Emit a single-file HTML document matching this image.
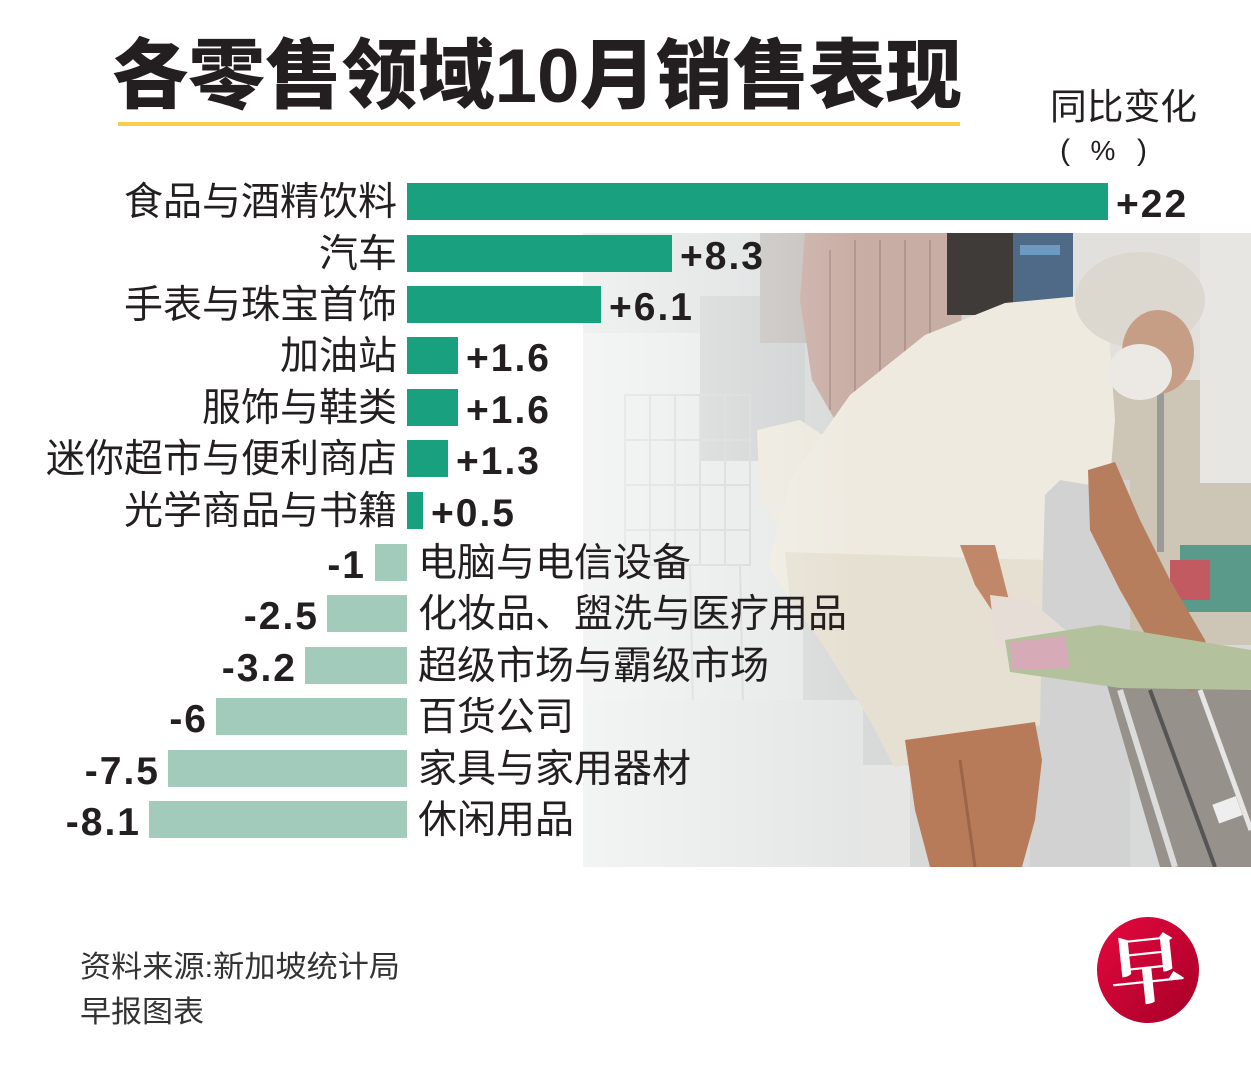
<!DOCTYPE html>
<html><head><meta charset="utf-8"><style>
html,body{margin:0;padding:0;background:#fff;}
body{width:1251px;height:1074px;overflow:hidden;}
svg{display:block;}
.cj{font-family:"Liberation Sans","Noto Sans CJK SC",sans-serif;fill:#231f20;}
.v{font-family:"Liberation Sans",sans-serif;font-weight:bold;fill:#231f20;font-size:39px;letter-spacing:2px;}
</style></head><body>
<svg width="1251" height="1074" viewBox="0 0 1251 1074" xmlns="http://www.w3.org/2000/svg">
<defs>
<clipPath id="pc"><rect x="583" y="233" width="668" height="634"/></clipPath>
<linearGradient id="fade" x1="583" y1="0" x2="860" y2="0" gradientUnits="userSpaceOnUse">
<stop offset="0" stop-color="#fff" stop-opacity="0.55"/><stop offset="1" stop-color="#fff" stop-opacity="0"/></linearGradient>
<linearGradient id="lg" x1="0" y1="0" x2="1" y2="1"><stop offset="0" stop-color="#e6083f"/><stop offset="1" stop-color="#a50027"/></linearGradient>
</defs>

<!-- PHOTO APPROXIMATION -->
<g clip-path="url(#pc)">
<rect x="583" y="233" width="668" height="634" fill="#d8d9d9"/>
<rect x="583" y="233" width="220" height="634" fill="#e6e8e8"/>
<rect x="583" y="233" width="180" height="100" fill="#dde0e0"/>
<rect x="700" y="296" width="105" height="165" fill="#cfd2d2"/>
<!-- cart lines -->
<g stroke="#d3d6d6" stroke-width="2" fill="none">
<rect x="625" y="395" width="125" height="170"/>
<line x1="650" y1="395" x2="650" y2="565"/><line x1="675" y1="395" x2="675" y2="565"/><line x1="700" y1="395" x2="700" y2="565"/><line x1="725" y1="395" x2="725" y2="565"/>
<line x1="625" y1="440" x2="750" y2="440"/><line x1="625" y1="485" x2="750" y2="485"/><line x1="625" y1="530" x2="750" y2="530"/>
<line x1="740" y1="565" x2="745" y2="800"/><line x1="690" y1="565" x2="695" y2="800"/>
</g>
<rect x="760" y="233" width="48" height="110" fill="#c4c1bd"/>
<polygon points="805,233 950,233 962,300 958,415 900,425 835,420 812,380 800,300" fill="#c8ada4"/>
<g stroke="#b0968e" stroke-width="2">
<line x1="830" y1="250" x2="830" y2="410"/><line x1="855" y1="240" x2="855" y2="415"/><line x1="880" y1="240" x2="880" y2="420"/><line x1="905" y1="240" x2="905" y2="420"/><line x1="930" y1="240" x2="930" y2="415"/>
</g>
<polygon points="757,430 800,420 830,440 828,540 790,545 760,500" fill="#ece8dd"/>
<rect x="947" y="233" width="66" height="82" fill="#3f3b39"/>
<rect x="1013" y="233" width="60" height="72" fill="#4f6a86"/>
<rect x="1020" y="245" width="40" height="10" fill="#6d9ac0"/>
<rect x="1073" y="233" width="178" height="160" fill="#e2e0dc"/>
<rect x="1110" y="380" width="141" height="265" fill="#cdc6b6"/>
<rect x="1200" y="233" width="51" height="250" fill="#e8e6e2"/>
<rect x="1157" y="377" width="7" height="175" fill="#9a9a9a"/>
<rect x="1180" y="545" width="71" height="67" fill="#5a9a8a"/>
<rect x="1170" y="560" width="40" height="40" fill="#c25a62"/>
<rect x="1030" y="480" width="100" height="387" fill="#d2d2d2"/>
<rect x="583" y="700" width="280" height="167" fill="#e4e6e6"/>
<rect x="860" y="765" width="50" height="102" fill="#e6e6e4"/>
<polygon points="1107,685 1251,685 1251,867 1160,867" fill="#96918a"/>
<line x1="1120" y1="690" x2="1175" y2="867" stroke="#dcdcdc" stroke-width="6"/>
<line x1="1150" y1="690" x2="1215" y2="867" stroke="#555" stroke-width="4"/>
<line x1="1200" y1="690" x2="1251" y2="830" stroke="#e6e6e6" stroke-width="5"/>
<rect x="1215" y="800" width="25" height="20" fill="#eee" transform="rotate(-20 1227 810)"/>
<!-- man -->
<polygon points="768,565 790,480 850,395 925,335 1005,303 1080,296 1108,318 1115,420 1110,480 1090,485 1060,480 1045,495 1042,600 1040,725 960,745 895,768 870,720 820,640 790,600" fill="#eeeae0"/>
<polygon points="785,552 1043,560 1040,725 960,745 895,768 870,720 820,640 790,600" fill="#e6e0d2"/>
<polygon points="905,740 1035,722 1042,760 1035,820 1022,867 930,867 915,810" fill="#b87b5a"/>
<line x1="960" y1="760" x2="975" y2="867" stroke="#9c6448" stroke-width="3"/>
<polygon points="1088,470 1115,462 1140,520 1170,580 1205,640 1215,680 1190,692 1160,660 1120,590 1090,530" fill="#b77e5e"/>
<polygon points="960,545 995,545 1012,612 995,615 975,585" fill="#c08868"/>
<polygon points="990,595 1030,600 1077,640 1070,676 1020,672 995,640" fill="#e6ddd6"/>
<polygon points="1005,640 1100,625 1251,650 1251,690 1120,688 1010,672" fill="#b3c29c"/>
<polygon points="1010,642 1065,636 1070,668 1012,670" fill="#d6aab6"/>
<ellipse cx="1140" cy="300" rx="65" ry="48" fill="#dcd8d0"/>
<ellipse cx="1158" cy="352" rx="36" ry="42" fill="#c69e86"/>
<ellipse cx="1140" cy="372" rx="32" ry="28" fill="#ece8e4"/>
<rect x="583" y="233" width="280" height="634" fill="url(#fade)"/>
</g>

<!-- TITLE -->
<text x="112" y="102" class="cj" style="font-size:76px;font-weight:900;" textLength="850" lengthAdjust="spacingAndGlyphs">各零售领域10月销售表现</text>
<rect x="118" y="122" width="842" height="4" fill="#f3cf4a"/>
<text x="1050" y="119" class="cj" style="font-size:36px;" textLength="147" lengthAdjust="spacingAndGlyphs">同比变化</text>
<text x="1060" y="160" class="cj" style="font-size:30px;font-family:'Liberation Sans',sans-serif;">(</text>
<text x="1103" y="160" class="cj" text-anchor="middle" style="font-size:28px;font-family:'Liberation Sans',sans-serif;">%</text>
<text x="1147" y="160" class="cj" text-anchor="end" style="font-size:30px;font-family:'Liberation Sans',sans-serif;">)</text>

<!-- BARS positive -->
<g fill="#19a07e">
<rect x="407" y="183" width="701" height="37"/>
<rect x="407" y="235" width="265" height="37"/>
<rect x="407" y="286" width="194" height="37"/>
<rect x="407" y="337" width="51" height="37"/>
<rect x="407" y="389" width="51" height="37"/>
<rect x="407" y="440" width="41" height="37"/>
<rect x="407" y="492" width="16" height="37"/>
</g>
<g fill="#a2cbbc">
<rect x="375" y="544" width="32" height="37"/>
<rect x="327" y="595" width="80" height="37"/>
<rect x="305" y="647" width="102" height="37"/>
<rect x="216" y="698" width="191" height="37"/>
<rect x="168" y="750" width="239" height="37"/>
<rect x="149" y="801" width="258" height="37"/>
</g>

<!-- category labels -->
<g class="cj" style="font-size:39px;" text-anchor="end">
<text x="397" y="215">食品与酒精饮料</text>
<text x="397" y="267">汽车</text>
<text x="397" y="318">手表与珠宝首饰</text>
<text x="397" y="369">加油站</text>
<text x="397" y="421">服饰与鞋类</text>
<text x="397" y="472">迷你超市与便利商店</text>
<text x="397" y="524">光学商品与书籍</text>
</g>
<g class="cj" style="font-size:39px;">
<text x="418" y="576">电脑与电信设备</text>
<text x="418" y="627">化妆品、盥洗与医疗用品</text>
<text x="418" y="679">超级市场与霸级市场</text>
<text x="418" y="730">百货公司</text>
<text x="418" y="782">家具与家用器材</text>
<text x="418" y="833">休闲用品</text>
</g>

<!-- values -->
<g class="v">
<text x="1116" y="217">+22</text>
<text x="680" y="269">+8.3</text>
<text x="609" y="320">+6.1</text>
<text x="466" y="371">+1.6</text>
<text x="466" y="423">+1.6</text>
<text x="456" y="474">+1.3</text>
<text x="431" y="526">+0.5</text>
</g>
<g class="v" text-anchor="end">
<text x="366" y="578">-1</text>
<text x="319" y="629">-2.5</text>
<text x="297" y="681">-3.2</text>
<text x="208" y="732">-6</text>
<text x="160" y="784">-7.5</text>
<text x="141" y="835">-8.1</text>
</g>

<!-- footer -->
<text x="80" y="977" class="cj" style="font-size:30px;fill:#333;" textLength="320" lengthAdjust="spacingAndGlyphs">资料来源:新加坡统计局</text>
<text x="80" y="1022" class="cj" style="font-size:30px;fill:#333;" textLength="124" lengthAdjust="spacingAndGlyphs">早报图表</text>

<!-- logo -->
<ellipse cx="1148" cy="970" rx="51" ry="53" fill="url(#lg)"/>
<text x="1147" y="997" text-anchor="middle" transform="rotate(-6 1147 970)" style="font-family:'Noto Serif CJK SC','Noto Sans CJK SC',serif;font-weight:bold;font-size:76px;fill:#fff;">早</text>
</svg>
</body></html>
